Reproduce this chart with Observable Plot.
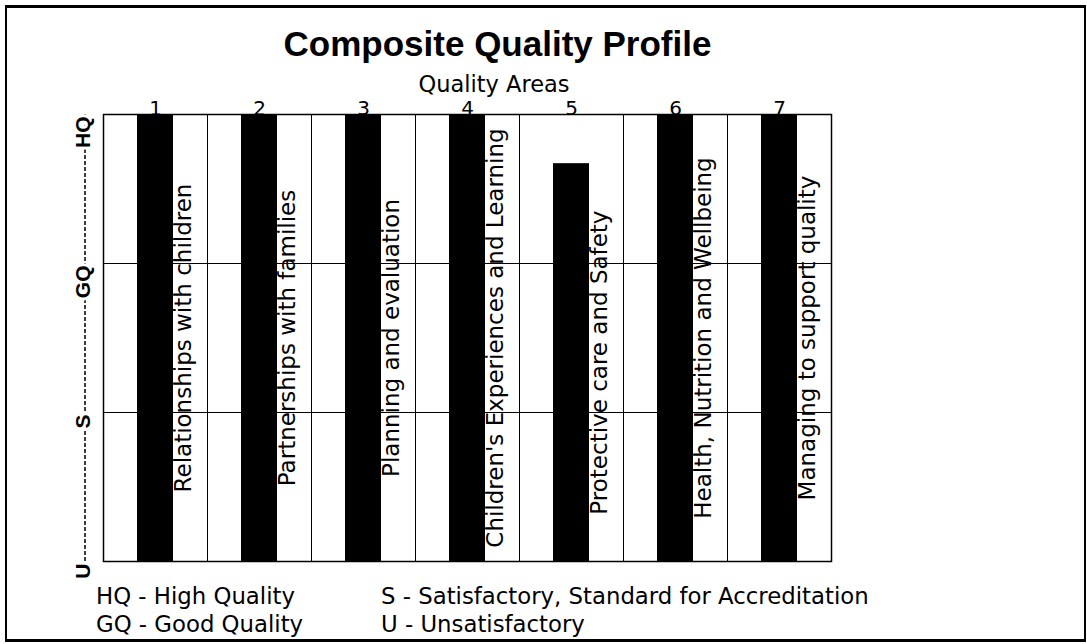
<!DOCTYPE html>
<html><head><meta charset="utf-8">
<script src="https://cdn.jsdelivr.net/npm/d3@7"></script>
<script src="https://cdn.jsdelivr.net/npm/@observablehq/plot@0.6"></script>
<style>
body{margin:0;background:#fff;width:1087px;height:644px;position:relative;overflow:hidden;}
#border{position:absolute;left:5px;top:5px;width:1081px;height:637px;box-sizing:border-box;border:2px solid #000;border-top-width:3px;border-bottom-width:3px;z-index:2;pointer-events:none;}
.t{position:absolute;white-space:nowrap;color:#000;}
#title{left:0;width:995px;top:26px;text-align:center;font:bold 35px/35px "Liberation Sans",Arial,sans-serif;}
#subtitle{left:0;width:988px;top:73px;text-align:center;font:22.5px/22px "DejaVu Sans",sans-serif;}
#chart{position:absolute;left:0;top:97px;}
#legend{position:absolute;top:582px;left:96px;font:22.8px/28px "DejaVu Sans",sans-serif;display:grid;grid-template-columns:285px auto;white-space:nowrap;}
</style>
</head><body>
<div id="border"></div>
<div id="title" class="t">Composite Quality Profile</div>
<div id="subtitle" class="t">Quality Areas</div>
<div id="chart"></div>
<div id="legend"></div>
<script>
const areaNumbers = ["1","2","3","4","5","6","7"];
const areaNames = [
  "Relationships with children",
  "Partnerships with families",
  "Planning and evaluation",
  "Children's Experiences and Learning",
  "Protective care and Safety",
  "Health, Nutrition and Wellbeing",
  "Managing to support quality"
];
const areaScores = [3, 3, 3, 3, 2.67, 3, 3];
const levelLabels = ["U", "S", "GQ", "HQ"];
const levelValues = [0, 1, 2, 3];
const legendItems = [
  "HQ - High Quality",
  "S - Satisfactory, Standard for Accreditation",
  "GQ - Good Quality",
  "U - Unsatisfactory"
];

const data = areaNumbers.map((n, i) => ({i, n, name: areaNames[i], score: areaScores[i]}));
const levels = levelValues.map((v, i) => ({v, label: levelLabels[i]}));
const topLevel = d3.max(levelValues), bottomLevel = d3.min(levelValues);

const chart = Plot.plot({
  width: 1087, height: 485,
  marginLeft: 103, marginRight: 256, marginTop: 17, marginBottom: 21,
  style: {background: "none", fontFamily: "DejaVu Sans", color: "#000"},
  x: {domain: [0, data.length], axis: null},
  y: {domain: [bottomLevel, topLevel], axis: null},
  marks: [
    Plot.ruleY(levels.filter(d => d.v > bottomLevel && d.v < topLevel), {y: "v", stroke: "#000", strokeWidth: 1}),
    Plot.ruleX(d3.range(1, data.length), {stroke: "#000", strokeWidth: 1}),
    Plot.rectY(data, {x1: d => d.i, x2: d => d.i + 1, y: "score", fill: "#000", insetLeft: 34, insetRight: 34}),
    Plot.frame({stroke: "#000", strokeWidth: 1.5}),
    Plot.text(data, {x: d => d.i + 0.5, y: d => d.score / 2, text: "name", rotate: -90, lineAnchor: "top", dx: 19, fontSize: 23, fill: "#000"}),
    Plot.text(data, {x: d => d.i + 0.5, y: () => topLevel, text: "n", lineAnchor: "bottom", fontSize: 20, fill: "#000"}),
    Plot.ruleX([0], {y1: bottomLevel, y2: topLevel, dx: -18.5, stroke: "#000", strokeDasharray: "4,2", strokeWidth: 1.5}),
    Plot.text(levels, {y: "v", text: "label", frameAnchor: "left", dx: -20, dy: 2, rotate: -90, textAnchor: "end",
      fontWeight: "bold", fontFamily: "Liberation Sans Narrow, Liberation Sans", fontSize: 21, stroke: "white", strokeWidth: 6, fill: "#000"})
  ]
});
document.getElementById("chart").appendChild(chart);

const legend = document.getElementById("legend");
legendItems.forEach(t => {
  const d = document.createElement("div");
  d.textContent = t;
  legend.appendChild(d);
});
</script>
</body></html>
